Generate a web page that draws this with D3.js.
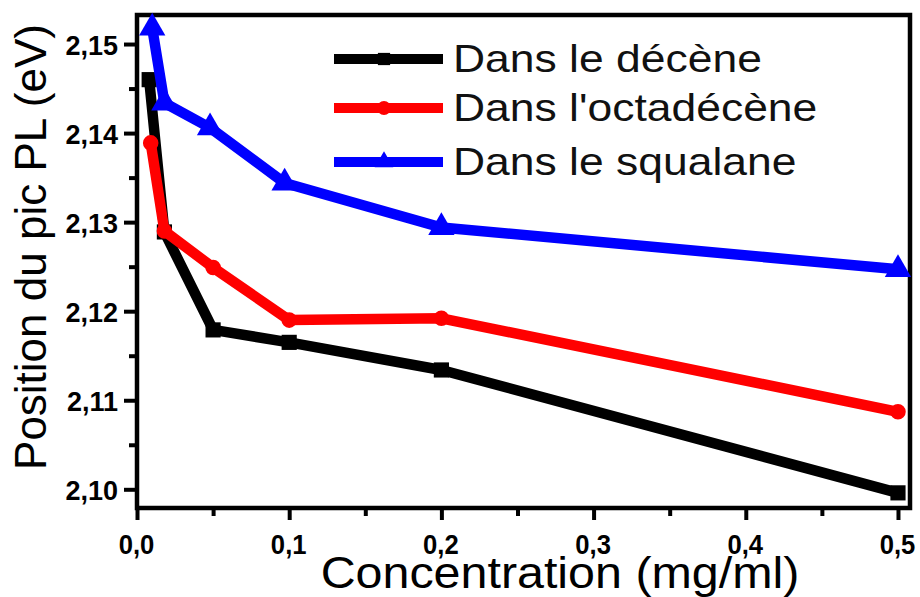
<!DOCTYPE html>
<html lang="fr">
  <head>
    <meta charset="utf-8">
    <title>Position du pic PL</title>
    <script src="https://d3js.org/d3.v7.min.js"></script>
    <style type="text/css">
      body { margin: 0; background: #fff; }
      svg text { font-family: "Liberation Sans", Arial, sans-serif; }
    </style>
  </head>
  <body>
    <div id="chart"></div>
    <script type="text/javascript">
      // values
      var concDecene = [0.008, 0.018, 0.05, 0.1, 0.2, 0.5];
      var decene = [2.1460, 2.1289, 2.1179, 2.1165, 2.1134, 2.0996];
      var concOctadecene = [0.009, 0.018, 0.05, 0.1, 0.2, 0.5];
      var octadecene = [2.1389, 2.1290, 2.1249, 2.1190, 2.1192, 2.1087];
      var concSqualane = [0.01, 0.018, 0.048, 0.097, 0.2, 0.5];
      var squalane = [2.1518, 2.1434, 2.1406, 2.1344, 2.1294, 2.1247];

      var seriesNames = ["Dans le décène", "Dans l'octadécène", "Dans le squalane"];
      var seriesColors = ["#000000", "#ff0000", "#0000ff"];
      var seriesShapes = [d3.symbolSquare, d3.symbolCircle, d3.symbolTriangle];

      var xTicks = [0, 0.1, 0.2, 0.3, 0.4, 0.5];
      var yTicks = [2.10, 2.11, 2.12, 2.13, 2.14, 2.15];

      var width = 920, height = 597;
      var mLeft = 137, mRight = 910, mTop = 15, mBottom = 508;

      var svg = d3.select("#chart").append("svg")
        .attr("width", width).attr("height", height);
      svg.append("rect").attr("width", width).attr("height", height).attr("fill", "#fff");

      var x = d3.scaleLinear().domain([0, 0.5079]).range([mLeft, mRight]);
      var y = d3.scaleLinear().domain([2.0979, 2.15326]).range([mBottom, mTop]);
      var comma = function (f) { return function (d) { return d3.format(f)(d).replace(".", ","); }; };

      // minor ticks
      var xAxisMinor = d3.axisBottom(x).tickValues(d3.range(0.05, 0.51, 0.1)).tickSize(8).tickFormat("");
      var yAxisMinor = d3.axisLeft(y).tickValues(d3.range(2.105, 2.151, 0.01)).tickSize(8).tickFormat("");
      svg.append("g").attr("transform", "translate(0," + mBottom + ")").call(xAxisMinor);
      svg.append("g").attr("transform", "translate(" + mLeft + ",0)").call(yAxisMinor);

      var xAxis = d3.axisBottom(x).tickValues(xTicks).tickSize(12).tickFormat(comma(".1f"));
      var yAxis = d3.axisLeft(y).tickValues(yTicks).tickSize(13).tickFormat(comma(".2f"));
      var gx = svg.append("g").attr("transform", "translate(0," + mBottom + ")").call(xAxis);
      var gy = svg.append("g").attr("transform", "translate(" + mLeft + ",0)").call(yAxis);

      svg.selectAll(".domain").remove();
      svg.selectAll(".tick line").attr("stroke", "#000").attr("stroke-width", 4);

      gx.selectAll(".tick text")
        .attr("x", 0).attr("y", 0).attr("dy", null)
        .attr("transform", "translate(-1,46) scale(0.95,1)")
        .attr("text-anchor", "middle")
        .style("font-size", "27px").style("font-weight", "bold").attr("fill", "#000");
      gy.selectAll(".tick text")
        .attr("x", 0).attr("y", 0).attr("dy", null)
        .attr("transform", "translate(-19,10)")
        .attr("text-anchor", "end")
        .style("font-size", "27px").style("font-weight", "bold").attr("fill", "#000");

      // frame
      svg.append("rect")
        .attr("x", mLeft).attr("y", mTop)
        .attr("width", mRight - mLeft).attr("height", mBottom - mTop)
        .attr("fill", "none").attr("stroke", "#000").attr("stroke-width", 4.5);

      // series
      var allX = [concDecene, concOctadecene, concSqualane];
      var allY = [decene, octadecene, squalane];
      var markSize = [230, 190, 300];

      var line = d3.line().x(function (d) { return x(d[0]); }).y(function (d) { return y(d[1]); });

      allY.forEach(function (vals, i) {
        var pts = vals.map(function (v, j) { return [allX[i][j], v]; });
        svg.append("path").datum(pts)
          .attr("d", line)
          .attr("fill", "none").attr("stroke", seriesColors[i])
          .attr("stroke-width", 10.5).attr("stroke-linejoin", "round");
        svg.selectAll(".m" + i).data(pts).enter().append("path")
          .attr("class", "m" + i)
          .attr("transform", function (d) { return "translate(" + x(d[0]) + "," + y(d[1]) + ")"; })
          .attr("d", d3.symbol().type(seriesShapes[i]).size(markSize[i]))
          .attr("fill", seriesColors[i]);
      });

      // legend
      var legendY = [59, 108, 162];
      seriesNames.forEach(function (name, i) {
        var g = svg.append("g");
        g.append("line")
          .attr("x1", 334).attr("x2", 443)
          .attr("y1", legendY[i]).attr("y2", legendY[i])
          .attr("stroke", seriesColors[i]).attr("stroke-width", 10);
        g.append("path")
          .attr("transform", "translate(384," + legendY[i] + ")")
          .attr("d", d3.symbol().type(seriesShapes[i]).size(150))
          .attr("fill", seriesColors[i]);
        g.append("text")
          .attr("transform", "translate(453," + (legendY[i] + 13) + ") scale(1.17,1)")
          .style("font-size", "38px").attr("fill", "#111")
          .text(name);
      });

      // axis titles
      svg.append("text")
        .attr("transform", "translate(560,588) scale(1.1,1)")
        .attr("text-anchor", "middle")
        .style("font-size", "44px").attr("fill", "#000")
        .text("Concentration (mg/ml)");
      svg.append("text")
        .attr("transform", "translate(46,247) rotate(-90)")
        .attr("text-anchor", "middle")
        .style("font-size", "44px").attr("fill", "#000")
        .text("Position du pic PL (eV)");
    </script>
  </body>
</html>
